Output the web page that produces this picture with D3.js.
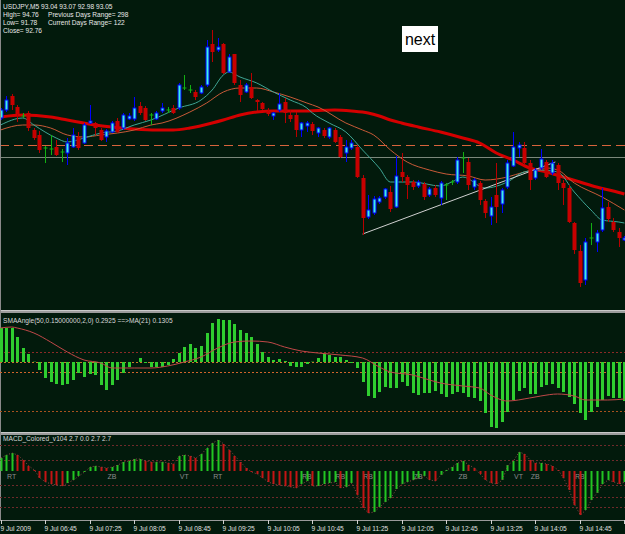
<!DOCTYPE html>
<html>
<head>
<meta charset="utf-8">
<script src="https://cdn.jsdelivr.net/npm/d3@7"></script>
<style>
  html, body { margin: 0; padding: 0; background: #021a0c; }
  svg { display: block; }
  text { font-family: "Liberation Sans", Arial, sans-serif; }
</style>
</head>
<body>
<svg id="chart" width="625" height="534"></svg>
<script>
// USDJPY M5, 9 Jul 2009, one entry per bar: [open, high, low, close]
var candles = [
  [93.41,93.46,93.40,93.45],[93.45,93.52,93.44,93.50],[93.52,93.53,93.45,93.475],[93.465,93.475,93.39,93.43],
  [93.42,93.435,93.41,93.42],[93.435,93.445,93.345,93.36],[93.35,93.36,93.30,93.31],[93.325,93.345,93.235,93.25],
  [93.26,93.27,93.185,93.26],[93.255,93.325,93.225,93.255],[93.265,93.30,93.22,93.225],[93.24,93.255,93.19,93.24],
  [93.235,93.31,93.175,93.285],[93.265,93.36,93.26,93.325],[93.315,93.34,93.25,93.26],[93.285,93.385,93.28,93.375],
  [93.385,93.475,93.38,93.395],[93.385,93.39,93.325,93.36],[93.35,93.36,93.295,93.30],[93.315,93.355,93.29,93.345],
  [93.34,93.395,93.335,93.385],[93.395,93.41,93.335,93.34],[93.36,93.435,93.35,93.425],[93.405,93.435,93.40,93.42],
  [93.405,93.515,93.395,93.46],[93.47,93.49,93.425,93.435],[93.46,93.47,93.395,93.40],[93.425,93.435,93.375,93.425],
  [93.405,93.445,93.40,93.435],[93.445,93.485,93.435,93.46],[93.45,93.465,93.435,93.45],[93.46,93.475,93.43,93.435],
  [93.46,93.585,93.45,93.575],[93.56,93.625,93.55,93.56],[93.55,93.575,93.535,93.55],[93.54,93.55,93.50,93.515],
  [93.535,93.575,93.53,93.565],[93.575,93.80,93.565,93.765],[93.78,93.85,93.69,93.74],[93.75,93.81,93.74,93.765],
  [93.78,93.785,93.63,93.635],[93.64,93.73,93.635,93.715],[93.73,93.73,93.575,93.585],[93.575,93.60,93.49,93.525],
  [93.54,93.585,93.535,93.575],[93.565,93.635,93.505,93.51],[93.50,93.505,93.445,93.49],[93.485,93.49,93.45,93.455],
  [93.445,93.46,93.42,93.43],[93.42,93.44,93.40,93.435],[93.45,93.535,93.44,93.48],[93.49,93.51,93.385,93.435],
  [93.425,93.45,93.39,93.405],[93.425,93.44,93.315,93.35],[93.35,93.39,93.315,93.385],[93.37,93.395,93.34,93.385],
  [93.38,93.39,93.325,93.345],[93.335,93.365,93.315,93.36],[93.35,93.36,93.31,93.32],[93.315,93.365,93.305,93.36],
  [93.35,93.36,93.285,93.29],[93.315,93.325,93.21,93.215],[93.235,93.30,93.19,93.265],[93.26,93.30,93.25,93.285],
  [93.265,93.275,93.11,93.115],[93.11,93.125,92.825,92.91],[92.915,93.025,92.905,92.95],[92.935,93.02,92.925,93.005],
  [92.99,93.02,92.98,93.01],[93.015,93.06,93.005,93.055],[93.04,93.07,92.94,92.955],[92.965,93.22,92.96,93.12],
  [93.14,93.235,93.09,93.115],[93.115,93.125,93.005,93.075],[93.09,93.10,93.05,93.065],[93.07,93.10,93.06,93.09],
  [93.08,93.09,93.00,93.015],[93.025,93.065,93.015,93.055],[93.06,93.075,93.015,93.025],[93.01,93.095,92.975,93.085],
  [93.075,93.085,93.00,93.075],[93.09,93.10,93.075,93.09],[93.09,93.215,93.08,93.20],[93.21,93.24,93.135,93.21],
  [93.19,93.21,93.05,93.075],[93.065,93.11,93.05,93.10],[93.085,93.095,92.975,93.00],[92.995,93.005,92.91,92.935],
  [92.92,93.015,92.875,92.965],[93.025,93.185,92.885,92.965],[92.98,93.06,92.935,93.05],[93.065,93.20,93.055,93.185],
  [93.17,93.34,93.165,93.265],[93.26,93.29,93.215,93.275],[93.26,93.29,93.175,93.185],[93.185,93.20,93.05,93.10],
  [93.11,93.16,93.10,93.15],[93.16,93.255,93.15,93.205],[93.19,93.20,93.11,93.115],[93.135,93.20,93.125,93.185],
  [93.175,93.185,93.05,93.085],[93.085,93.10,92.975,93.06],[93.06,93.075,92.885,92.89],[92.885,92.89,92.73,92.75],
  [92.745,92.775,92.565,92.585],[92.60,92.81,92.575,92.79],[92.81,92.885,92.775,92.81],[92.79,92.85,92.74,92.835],
  [92.85,93.06,92.84,92.96],[92.965,92.99,92.89,92.905],[92.89,92.91,92.84,92.85],[92.84,92.86,92.765,92.81],
  [92.80,92.82,92.795,92.81]
];

// moving averages: [bar index, price]
var maFast = [[0,93.375],[4,93.41],[6,93.375],[8,93.34],[10,93.31],[12,93.29],[15,93.31],[18,93.335],[21,93.345],
  [24,93.375],[27,93.40],[32,93.46],[36,93.50],[38,93.55],[40,93.625],[41,93.64],[43,93.615],[46,93.585],[49,93.54],
  [52,93.50],[55,93.46],[56,93.435],[59,93.385],[62,93.34],[65,93.25],[68,93.16],[70,93.09],[74,93.09],[79,93.07],
  [81,93.09],[83,93.115],[87,93.06],[91,93.09],[94,93.14],[97,93.15],[100,93.14],[103,93.04],[106,92.95],[108,92.90],
  [111,92.89],[112,92.885]];
var maMid = [[0,93.35],[4,93.375],[6,93.375],[9,93.36],[12,93.325],[15,93.315],[18,93.325],[21,93.335],[24,93.35],
  [27,93.375],[29,93.385],[34,93.44],[37,93.485],[40,93.54],[43,93.56],[46,93.56],[49,93.54],[52,93.515],[55,93.485],
  [57,93.465],[62,93.385],[65,93.35],[67,93.325],[70,93.25],[73,93.19],[77,93.15],[80,93.13],[84,93.12],[87,93.10],
  [91,93.115],[94,93.14],[98,93.16],[100,93.15],[103,93.085],[108,93.015],[112,92.95]];
var maSlow = [[0,93.415],[4,93.425],[9,93.415],[12,93.40],[17,93.375],[20,93.365],[24,93.355],[28,93.35],[31,93.35],
  [34,93.36],[38,93.385],[40,93.40],[43,93.425],[46,93.44],[49,93.445],[54,93.445],[60,93.45],[63,93.445],[66,93.435],
  [68,93.42],[70,93.40],[72,93.385],[75,93.365],[79,93.34],[83,93.31],[86,93.285],[89,93.235],[92,93.20],[95,93.16],
  [98,93.14],[101,93.115],[104,93.09],[107,93.065],[110,93.045],[112,93.03]];

var levelDashed = 93.275;
var levelSolid = 93.215;
var trendLine = [[65,92.83],[99.6,93.19]];

// SMAAngle histogram, one value per bar, and its MA(21)
var smaAngle = [0.51,0.51,0.51,0.375,0.21,0.12,0.005,-0.12,-0.24,-0.30,-0.33,-0.345,-0.33,-0.27,-0.165,-0.225,
  -0.18,-0.195,-0.345,-0.42,-0.345,-0.27,-0.165,-0.075,0,0.06,-0.015,-0.075,-0.075,-0.075,-0.045,0.045,
  0.135,0.225,0.27,0.21,0.24,0.435,0.585,0.645,0.63,0.63,0.57,0.48,0.435,0.375,0.27,0.15,
  0.075,0.03,0.045,0.015,-0.06,-0.075,-0.075,-0.03,0.005,0.06,0.12,0.105,0.075,0.075,0.03,-0.015,
  -0.09,-0.30,-0.51,-0.54,-0.45,-0.375,-0.39,-0.39,-0.30,-0.36,-0.465,-0.495,-0.465,-0.465,-0.435,-0.48,
  -0.525,-0.48,-0.45,-0.465,-0.525,-0.54,-0.585,-0.765,-0.975,-0.99,-0.90,-0.75,-0.57,-0.435,-0.39,-0.48,
  -0.48,-0.375,-0.345,-0.33,-0.39,-0.45,-0.525,-0.63,-0.765,-0.87,-0.75,-0.675,-0.57,-0.51,-0.54,-0.54,-0.585];
var smaAngleMa = [[0,0.51],[2,0.525],[3,0.51],[6,0.435],[9,0.30],[12,0.15],[15,0.03],[18,-0.015],[20,-0.09],
  [24,-0.09],[27,-0.09],[30,-0.06],[33,0],[36,0.075],[39,0.21],[42,0.30],[45,0.315],[48,0.30],[51,0.225],[54,0.165],
  [57,0.135],[61,0.105],[65,0.06],[68,-0.075],[70,-0.15],[74,-0.195],[77,-0.27],[79,-0.315],[83,-0.36],[86,-0.39],
  [88,-0.495],[91,-0.585],[95,-0.54],[97,-0.51],[100,-0.48],[103,-0.51],[105,-0.57],[109,-0.57],[112,-0.555]];
var smaAngleLevels = [0.15, 0, -0.15, -0.735];

// MACD_Colored histogram, one value per bar
var macd = [0.13,0.16,0.18,0.16,0.11,0.05,0.01,-0.07,-0.11,-0.13,-0.14,-0.15,-0.12,-0.09,-0.05,-0.01,
  0.04,0.05,0.04,0.03,0.04,0.06,0.09,0.10,0.12,0.12,0.10,0.09,0.09,0.09,0.08,0.07,
  0.15,0.16,0.15,0.13,0.17,0.23,0.28,0.31,0.27,0.21,0.15,0.09,0.03,-0.01,-0.03,-0.07,
  -0.11,-0.13,-0.14,-0.15,-0.16,-0.17,-0.13,-0.10,-0.15,-0.15,-0.13,-0.12,-0.11,-0.17,-0.16,-0.12,
  -0.24,-0.37,-0.42,-0.41,-0.36,-0.31,-0.27,-0.18,-0.13,-0.11,-0.09,-0.07,-0.05,-0.09,-0.10,-0.04,
  0.01,0.04,0.08,0.10,0.06,0.03,-0.03,-0.09,-0.12,-0.13,-0.09,0.06,0.10,0.19,0.17,0.11,
  0.08,0.08,0.07,0.05,0.01,-0.07,-0.19,-0.34,-0.44,-0.39,-0.29,-0.22,-0.13,-0.09,-0.11,-0.13,-0.11];
var macdLevels = [0.26, 0.11, -0.14, -0.26, -0.36];
var macdSignals = [[2,"RT"],[20,"ZB"],[33,"VT"],[39,"RT"],[55,"RB"],[61,"RB"],[66,"RB"],[75,"ZB"],
  [83,"ZB"],[93,"VT"],[96,"ZB"],[104,"RB"]];

// the last tick (15:25) sits on the right edge and its label falls outside the picture
var timeLabels = ["9 Jul 2009","9 Jul 06:45","9 Jul 07:25","9 Jul 08:05","9 Jul 08:45","9 Jul 09:25","9 Jul 10:05",
  "9 Jul 10:45","9 Jul 11:25","9 Jul 12:05","9 Jul 12:45","9 Jul 13:25","9 Jul 14:05","9 Jul 14:45",""];
var headerLines = [
  ["USDJPY,M5  93.04 93.07 92.98 93.05", ""],
  ["High= 94.76", "Previous Days Range= 298"],
  ["Low= 91.78", "Current Days Range= 122"],
  ["Close= 92.76", ""]
];
var smaAngleTitle = "SMAAngle(50,0.15000000,2,0) 0.2925  ==>MA(21) 0.1305";
var macdTitle = "MACD_Colored_v104 2.7 0.0 2.7 2.7";

var W = 625, H = 534;
var mainP = { top: 0, bottom: 310 };
var sub1P = { top: 313, bottom: 432 };
var sub2P = { top: 435, bottom: 520 };

var svg = d3.select("#chart");
svg.append("rect").attr("width", W).attr("height", H).attr("fill", "#021a0c");

var x = d3.scaleLinear().domain([0, 112]).range([0.5, 624.4]);
var y = d3.scaleLinear().domain([92.45, 94.0]).range([mainP.bottom, mainP.top]);
var y1 = d3.scaleLinear().domain([-1.05, 0.735]).range([sub1P.bottom, sub1P.top]);
var y2 = d3.scaleLinear().domain([-0.49, 0.36]).range([sub2P.bottom, sub2P.top]);

function clip(id, p) {
    svg.append("clipPath").attr("id", id).append("rect")
        .attr("x", 0).attr("y", p.top).attr("width", W).attr("height", p.bottom - p.top);
    return svg.append("g").attr("clip-path", "url(#" + id + ")");
}

// ---- main window ----
var gm = clip("cm", mainP);

gm.append("line").attr("x1", 0).attr("x2", W)
    .attr("y1", Math.round(y(levelDashed)) + 0.5).attr("y2", Math.round(y(levelDashed)) + 0.5)
    .attr("stroke", "#d8643c").attr("stroke-dasharray", "9,5");
gm.append("line").attr("x1", 0).attr("x2", W)
    .attr("y1", Math.round(y(levelSolid)) + 0.5).attr("y2", Math.round(y(levelSolid)) + 0.5)
    .attr("stroke", "#7c887c");

var maLine = d3.line().x(function (d) { return x(d[0]); }).y(function (d) { return y(d[1]); })
    .curve(d3.curveMonotoneX);
gm.append("path").attr("d", maLine(maSlow)).attr("fill", "none").attr("stroke", "#d40000").attr("stroke-width", 3);
gm.append("path").attr("d", maLine(maMid)).attr("fill", "none").attr("stroke", "#c85a38").attr("stroke-width", 1);
gm.append("path").attr("d", maLine(maFast)).attr("fill", "none").attr("stroke", "#3fa595").attr("stroke-width", 1);

gm.append("line")
    .attr("x1", x(trendLine[0][0])).attr("y1", y(trendLine[0][1]))
    .attr("x2", x(trendLine[1][0])).attr("y2", y(trendLine[1][1]))
    .attr("stroke", "#d0d0d0").attr("stroke-width", 1);

var cg = gm.append("g");
candles.forEach(function (c, i) {
    var cx = Math.round(x(i)) + 0.5;
    var o = c[0], h = c[1], l = c[2], cl = c[3];
    if (cl > o) {
        cg.append("line").attr("x1", cx).attr("x2", cx).attr("y1", y(h)).attr("y2", y(l)).attr("stroke", "#0000ff");
        cg.append("rect").attr("x", cx - 1.5).attr("width", 3)
            .attr("y", y(cl)).attr("height", Math.max(1, y(o) - y(cl)))
            .attr("fill", "#3ff0e0").attr("stroke", "#0000ff").attr("stroke-width", 1);
    } else if (cl < o) {
        cg.append("line").attr("x1", cx).attr("x2", cx).attr("y1", y(h)).attr("y2", y(l)).attr("stroke", "#b80000");
        cg.append("rect").attr("x", cx - 2).attr("width", 4)
            .attr("y", y(o)).attr("height", Math.max(1, y(cl) - y(o)))
            .attr("fill", "#c80000");
    } else {
        cg.append("line").attr("x1", cx).attr("x2", cx).attr("y1", y(h)).attr("y2", y(l)).attr("stroke", "#12b012");
        cg.append("line").attr("x1", cx - 2).attr("x2", cx + 2).attr("y1", y(o)).attr("y2", y(o)).attr("stroke", "#12b012");
    }
});

var hdr = svg.append("g").attr("fill", "#e8e8e8").attr("font-size", "6.6px");
headerLines.forEach(function (ln, k) {
    hdr.append("text").attr("x", 3).attr("y", 9 + k * 8).text(ln[0]);
    if (ln[1]) hdr.append("text").attr("x", 48).attr("y", 9 + k * 8).text(ln[1]);
});

var nb = svg.append("g");
nb.append("rect").attr("x", 402).attr("y", 26).attr("width", 36).attr("height", 26).attr("fill", "#ffffff");
nb.append("text").attr("x", 420).attr("y", 45).attr("text-anchor", "middle")
    .attr("font-size", "16px").attr("fill", "#000000").text("next");

// ---- window separators ----
[[310, 313], [432, 435]].forEach(function (s) {
    svg.append("rect").attr("x", 0).attr("y", s[0]).attr("width", W).attr("height", s[1] - s[0]).attr("fill", "#9c9c9c");
    svg.append("line").attr("x1", 0).attr("x2", W).attr("y1", s[0] + 0.5).attr("y2", s[0] + 0.5).attr("stroke", "#c8c8c8");
});
svg.append("line").attr("x1", 0.5).attr("x2", 0.5).attr("y1", 0).attr("y2", 520).attr("stroke", "#8a8a8a");

// ---- SMAAngle window ----
var g1 = clip("c1", sub1P);
var lvl1Col = ["#8c2a26", "#c8782a", "#d0642a", "#a8521e"];
smaAngleLevels.forEach(function (v, k) {
    var yy = Math.round(y1(v)) + 0.5;
    g1.append("line").attr("x1", 0).attr("x2", W).attr("y1", yy).attr("y2", yy)
        .attr("stroke", lvl1Col[k]).attr("stroke-dasharray", "2,2");
});
g1.selectAll("rect.hb").data(smaAngle).enter().append("rect").attr("class", "hb")
    .attr("x", function (d, i) { return Math.round(x(i)) - 1; })
    .attr("width", 3)
    .attr("y", function (d) { return Math.min(y1(d), y1(0)); })
    .attr("height", function (d) { return Math.abs(y1(d) - y1(0)); })
    .attr("fill", "#2fce2f");
var smaLine = d3.line().x(function (d) { return x(d[0]); }).y(function (d) { return y1(d[1]); }).curve(d3.curveMonotoneX);
g1.append("path").attr("d", smaLine(smaAngleMa)).attr("fill", "none").attr("stroke", "#c04848").attr("stroke-width", 1);
svg.append("text").attr("x", 3).attr("y", 323).attr("font-size", "6.6px").attr("fill", "#d8d8d8").text(smaAngleTitle);

// ---- MACD window ----
var g2 = clip("c2", sub2P);
macdLevels.forEach(function (v) {
    var yy = Math.round(y2(v)) + 0.5;
    g2.append("line").attr("x1", 0).attr("x2", W).attr("y1", yy).attr("y2", yy)
        .attr("stroke", "#6e2a2a").attr("stroke-dasharray", "2,2");
});
g2.selectAll("text.sig").data(macdSignals).enter().append("text").attr("class", "sig")
    .attr("x", function (d) { return x(d[0]); }).attr("y", 479)
    .attr("text-anchor", "middle").attr("font-size", "7px").attr("fill", "#8c8c8c")
    .text(function (d) { return d[1]; });
g2.selectAll("rect.mb").data(macd).enter().append("rect").attr("class", "mb")
    .attr("x", function (d, i) { return Math.round(x(i)) - 0.5; })
    .attr("width", 2)
    .attr("y", function (d) { return Math.min(y2(d), y2(0)); })
    .attr("height", function (d) { return Math.max(1, Math.abs(y2(d) - y2(0))); })
    .attr("fill", function (d, i) { return (i === 0 || d >= macd[i - 1]) ? "#22c622" : "#c41414"; });
var macdLine = d3.line().x(function (d, i) { return x(i) + 0.5; }).y(function (d) { return y2(d); });
g2.append("path").attr("d", macdLine(macd)).attr("fill", "none")
    .attr("stroke", "#8a4646").attr("stroke-dasharray", "1,2");
svg.append("text").attr("x", 3).attr("y", 441).attr("font-size", "6.6px").attr("fill", "#d8d8d8").text(macdTitle);

// ---- time axis ----
svg.append("line").attr("x1", 0).attr("x2", W).attr("y1", 520.5).attr("y2", 520.5).attr("stroke", "#9a9a9a");
var ax = svg.append("g");
timeLabels.forEach(function (t, k) {
    var tx = Math.round(x(k * 8)) + 0.5;
    ax.append("line").attr("x1", tx).attr("x2", tx).attr("y1", 520).attr("y2", 524).attr("stroke", "#d0d0d0");
    if (t) ax.append("text").attr("x", tx - 1).attr("y", 531).attr("font-size", "6.6px").attr("fill", "#e0e0e0").text(t);
});
</script>
</body>
</html>
